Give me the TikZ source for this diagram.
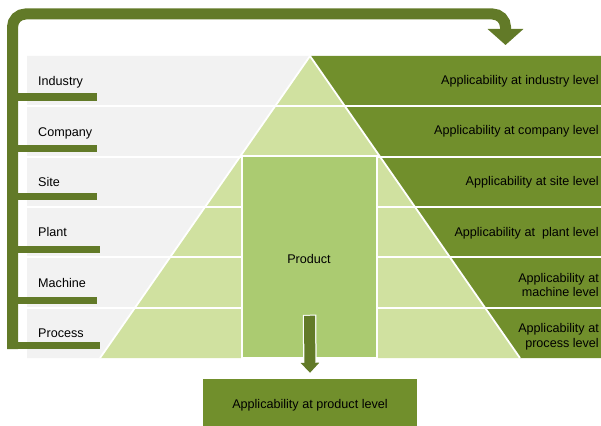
\documentclass[tikz,border=0pt]{standalone}
\usepackage{fontspec}
\setmainfont{Liberation Sans}
\usetikzlibrary{positioning,arrows.meta}
\definecolor{framegreen}{RGB}{98,122,40}
\definecolor{darkgreen}{RGB}{113,143,44}
\definecolor{lightgreen}{RGB}{208,225,160}
\definecolor{prodgreen}{RGB}{171,203,113}
\definecolor{bandgray}{RGB}{242,242,242}
\tikzset{
  lbl/.style={font=\fontsize{12.6}{14.5}\selectfont, inner sep=0pt, text height=9pt, text depth=0pt},
  rlbl/.style={font=\fontsize{12.6}{14.5}\selectfont, inner sep=0pt, anchor=east, align=right},
  sep/.style={white, line width=1.8pt},
  tick/.style={framegreen, line width=7pt},
  framearrow/.style={framegreen, line width=11pt, rounded corners=13pt, -{Triangle[width=35pt,length=16pt]}},
  prodbox/.style={fill=prodgreen, draw=white, line width=1.5pt, minimum width=135pt, minimum height=202pt},
  appbox/.style={fill=darkgreen, font=\fontsize{12.6}{14.5}\selectfont, minimum width=214pt, minimum height=52pt}
}
\begin{document}
\begin{tikzpicture}[x=1pt,y=-1pt]
\useasboundingbox (0,0) rectangle (601,425);
\def\ytop{56}
\def\ybot{358}
\def\xapex{310}
\def\half{210}
% the three areas
\fill[bandgray] (27,\ytop) -- (\xapex,\ytop) -- (\xapex-\half,\ybot) -- (27,\ybot) -- cycle;
\fill[darkgreen] (\xapex,\ytop) -- (601,\ytop) -- (601,\ybot) -- (\xapex+\half,\ybot) -- cycle;
\fill[lightgreen] (\xapex,\ytop) -- (\xapex-\half,\ybot) -- (\xapex+\half,\ybot) -- cycle;
\draw[sep] (\xapex-\half,\ybot) -- (\xapex,\ytop) -- (\xapex+\half,\ybot);
% band separators
\foreach \i in {1,...,5} {
  \pgfmathsetmacro{\y}{\ytop+\i*(\ybot-\ytop)/6}
  \draw[sep] (27,\y) -- (601,\y);
}
\node[prodbox] (prod) at (309.5,257) {};
\node[font=\fontsize{12.6}{14.5}\selectfont] (prodlbl) at (309,259) {Product};
% level names
\foreach \i/\lab in {0/Industry,1/Company,2/Site,3/Plant,4/Machine,5/Process} {
  \pgfmathsetmacro{\yc}{\ytop+(\i+0.5)*(\ybot-\ytop)/6}
  \node[lbl, anchor=west] (l\i) at (38,\yc) {\lab};
}
\node[rlbl] (r0) at (599,81.5) {Applicability at industry level};
\node[rlbl] (r1) at (599,131.5) {Applicability at company level};
\node[rlbl] (r2) at (599,182.5) {Applicability at site level};
\node[rlbl] (r3) at (599,233) {Applicability at\ \ plant level};
\node[rlbl] (r4) at (599,285) {Applicability at\\machine level};
\node[rlbl] (r5) at (599,336.5) {Applicability at\\process level};
% bracket with the arrow back to the top
\coordinate (fbot) at (12.5,349);
\coordinate (fend) at (505.5,45);
\foreach \y/\x in {97/97,148/97,196/97,249/99.5,300/97,345/99.5} {
  \draw[tick] (7,\y) -- (\x,\y);
}
\draw[framearrow] (fbot) -- (12.5,14) -- (505.5,14) -- (fend);
% product level
\node[appbox] (app) at (310,405) {Applicability at product level};
\draw[white, line width=13.5pt, -{Triangle[width=21pt,length=12.5pt]}] ([yshift=44pt]prod.south) -- ([yshift=4.5pt]app.north);
\draw[framegreen, line width=11pt, -{Triangle[width=18pt,length=10pt]}] ([yshift=43pt]prod.south) -- ([yshift=6pt]app.north);
\end{tikzpicture}
\end{document}
